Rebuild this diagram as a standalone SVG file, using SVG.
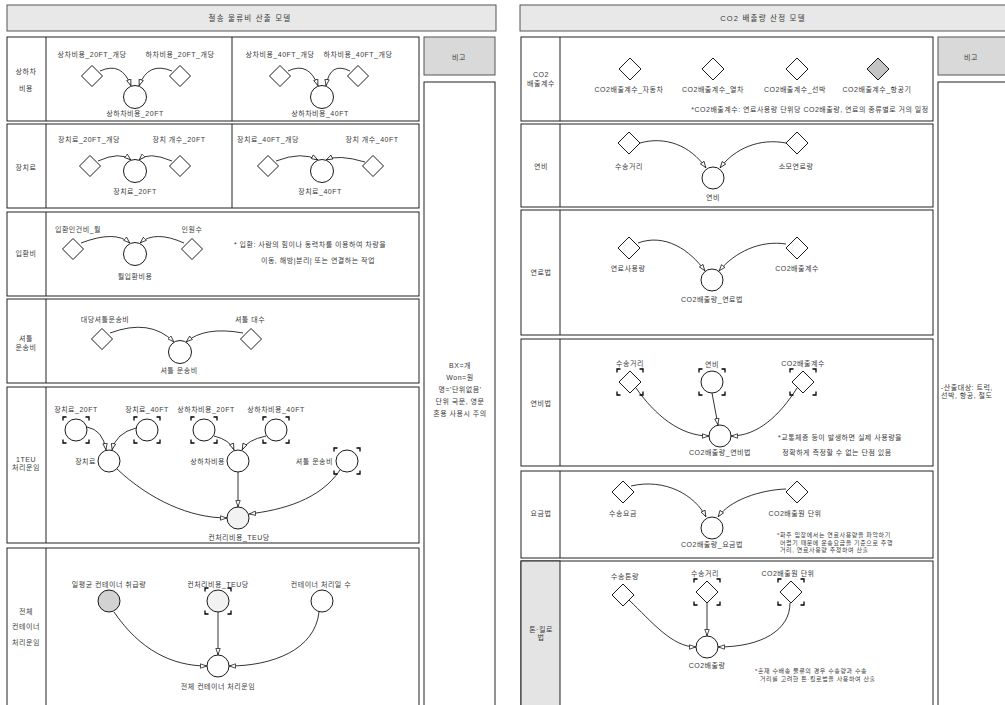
<svg xmlns="http://www.w3.org/2000/svg" width="1005" height="705" viewBox="0 0 1005 705">
<style>
.t{font-family:"Liberation Sans","Noto Sans CJK KR",sans-serif;font-size:7px;fill:#3a3a3a;letter-spacing:0.5px;text-anchor:middle;dominant-baseline:central}
.s{text-anchor:start}
.e{text-anchor:end}
.sm{font-size:6px;letter-spacing:0.6px}
.ttl{font-size:7.5px;letter-spacing:1.2px}
.box{fill:#fff;stroke:#222;stroke-width:1}
.hdr{fill:#e8e8e8;stroke:#555;stroke-width:1}
.nh{fill:#d9d9d9;stroke:#555;stroke-width:1}
.gcell{fill:#e4e4e4;stroke:#222;stroke-width:1}
.ln{stroke:#222;stroke-width:1;fill:none}
.sh{fill:#fff;stroke:#000;stroke-width:0.9}
.brk{fill:none;stroke:#000;stroke-width:1.3}
.cn{fill:none;stroke:#000;stroke-width:0.8;marker-end:url(#ah)}
</style>
<defs>
<path id="dia" d="M0,-10.5L10.5,0L0,10.5L-10.5,0Z"/>
<path id="dib" d="M0,-11L11,0L0,11L-11,0Z"/>
<path id="brk" d="M-13,-9.5V-13H-9.5M9.5,-13H13V-9.5M13,9.5V13H9.5M-9.5,13H-13V9.5"/>
<marker id="ah" viewBox="0 0 8 6" refX="8" refY="3" markerWidth="7" markerHeight="5.5" orient="auto" markerUnits="userSpaceOnUse">
<path d="M0.5,0.5L7.5,3L0.5,5.5Z" fill="#fff" stroke="#000" stroke-width="0.8"/>
</marker>
</defs>
<rect width="1005" height="705" fill="#fff"/>

<!-- LEFT FRAME -->
<g id="left-frame">
<rect class="hdr" x="7" y="5" width="489" height="26"/>
<text class="t ttl" x="250" y="18">철송 물류비 산출 모델</text>
<rect class="box" x="7" y="37" width="412" height="84"/>
<line class="ln" x1="46" y1="37" x2="46" y2="121"/><line class="ln" x1="232" y1="37" x2="232" y2="121"/>
<rect class="box" x="7" y="124" width="412" height="84"/>
<line class="ln" x1="46" y1="124" x2="46" y2="208"/><line class="ln" x1="232" y1="124" x2="232" y2="208"/>
<rect class="box" x="7" y="212" width="412" height="84"/>
<line class="ln" x1="46" y1="212" x2="46" y2="296"/>
<rect class="box" x="7" y="299" width="412" height="84"/>
<line class="ln" x1="46" y1="299" x2="46" y2="383"/>
<rect class="box" x="7" y="387" width="412" height="156"/>
<line class="ln" x1="46" y1="387" x2="46" y2="543"/>
<rect class="box" x="7" y="548" width="412" height="160"/>
<line class="ln" x1="46" y1="548" x2="46" y2="705"/>
<text class="t" x="26" y="71">상하차</text><text class="t" x="26" y="88">비용</text>
<text class="t" x="26" y="167">장치료</text>
<text class="t" x="26" y="253">입환비</text>
<text class="t" x="26" y="338">셔틀</text><text class="t" x="26" y="347">운송비</text>
<text class="t" x="26" y="459">1TEU</text><text class="t" x="26" y="467">처리운임</text>
<text class="t" x="26" y="611">전체</text><text class="t" x="26" y="626">컨테이너</text><text class="t" x="26" y="642">처리운임</text>
<rect class="nh" x="424" y="37" width="71" height="38"/>
<text class="t" x="459" y="57">비고</text>
<rect class="box" x="424" y="82" width="71" height="626"/>
<text class="t" x="460" y="365">BX=개</text>
<text class="t" x="460" y="377">Won=원</text>
<text class="t" x="460" y="389">명='단위없음'</text>
<text class="t" x="460" y="401">단위 국문, 영문</text>
<text class="t" x="460" y="413">혼용 사용시 주의</text>
<text class="t" x="310" y="244">* 입환: 사람의 힘이나 동력차를 이용하여 차량을</text>
<text class="t" x="318" y="260">이동, 해방|분리| 또는 연결하는 작업</text>
</g>

<!-- RIGHT FRAME -->
<g id="right-frame">
<rect class="hdr" x="520" y="5" width="492" height="26"/>
<text class="t ttl" x="763" y="18">CO2 배출량 산정 모델</text>
<rect class="box" x="521" y="37" width="412" height="84"/>
<line class="ln" x1="560" y1="37" x2="560" y2="121"/>
<rect class="box" x="521" y="124" width="412" height="83"/>
<line class="ln" x1="560" y1="124" x2="560" y2="207"/>
<rect class="box" x="521" y="210" width="412" height="125"/>
<line class="ln" x1="560" y1="210" x2="560" y2="335"/>
<rect class="box" x="521" y="339" width="412" height="127"/>
<line class="ln" x1="560" y1="339" x2="560" y2="466"/>
<rect class="box" x="521" y="471" width="412" height="87"/>
<line class="ln" x1="560" y1="471" x2="560" y2="558"/>
<rect class="box" x="521" y="561" width="412" height="147"/>
<rect class="gcell" x="521" y="561" width="39" height="147"/>
<text class="t" x="541" y="74">CO2</text><text class="t" x="541" y="83">배출계수</text>
<text class="t" x="541" y="166">연비</text>
<text class="t" x="541" y="272">연료법</text>
<text class="t" x="541" y="403">연비법</text>
<text class="t" x="541" y="513">요금법</text>
<text class="t" x="541" y="629">톤·킬로</text><text class="t" x="541" y="637">법</text>
<rect class="nh" x="938" y="37" width="72" height="38"/>
<text class="t" x="971" y="57">비고</text>
<rect class="box" x="938" y="82" width="72" height="626"/>
<text class="t s" x="941" y="387">-산출대상: 트럭,</text>
<text class="t s" x="941" y="395">선박, 항공, 철도</text>
<text class="t" x="810" y="109">*CO2배출계수: 연료사용량 단위당 CO2배출량, 연료의 종류별로 거의 일정</text>
<text class="t" x="840" y="437">*교통체증 등이 발생하면 실제 사용량을</text>
<text class="t" x="837" y="452">정확하게 측정할 수 없는 단점 있음</text>
<text class="t s sm" x="777" y="535">*화주 입장에서는 연료사용량을 파악하기</text>
<text class="t s sm" x="780" y="542.5">어렵기 때문에 운송요금을 기준으로 주행</text>
<text class="t s sm" x="780" y="550">거리, 연료사용량 추정하여 산출</text>
<text class="t s sm" x="755" y="671">*혼재 수배송 물류의 경우 수송량과 수송</text>
<text class="t s sm" x="760" y="679">거리를 고려한 톤·킬로법을 사용하여 산출</text>
</g>

<!-- CONNECTORS -->
<g id="connectors">
<path class="cn" d="M100,71Q122,61 131,86"/>
<path class="cn" d="M172,71Q148,61 139,86"/>
<path class="cn" d="M288,71Q309,61 318,86"/>
<path class="cn" d="M350,71Q330,61 326,86"/>
<path class="cn" d="M98,161Q120,151 131,160"/>
<path class="cn" d="M172,161Q148,151 139,160"/>
<path class="cn" d="M276,161Q302,151 318,160"/>
<path class="cn" d="M365,162Q338,154 326,160"/>
<path class="cn" d="M81,243Q115,230 130,243"/>
<path class="cn" d="M184,243Q155,230 140,243"/>
<path class="cn" d="M110,333Q150,318 174,342"/>
<path class="cn" d="M243,333Q205,326 186,342"/>
<path class="cn" d="M87,427Q103,430 106,450"/>
<path class="cn" d="M136,428Q116,433 112,450"/>
<path class="cn" d="M214,436Q230,440 234,450"/>
<path class="cn" d="M266,436Q247,440 242,450"/>
<path class="cn" d="M117,469C150,500 190,518 227,518"/>
<path class="cn" d="M238,472L238,507"/>
<path class="cn" d="M340,470C320,500 282,510 249,514"/>
<path class="cn" d="M114,612C140,650 172,666 207,666"/>
<path class="cn" d="M218,612L218,655"/>
<path class="cn" d="M319,612C315,650 272,666 229,666"/>
<path class="cn" d="M640,143C665,136 690,145 706,168"/>
<path class="cn" d="M786,143C760,138 735,148 720,168"/>
<path class="cn" d="M638,243C665,233 690,250 705,271"/>
<path class="cn" d="M786,244C760,240 735,252 719,271"/>
<path class="cn" d="M636,388C655,415 680,436 709,436"/>
<path class="cn" d="M712,393L718,425"/>
<path class="cn" d="M797,388C780,415 758,436 731,436"/>
<path class="cn" d="M631,486C665,478 695,495 706,517"/>
<path class="cn" d="M786,489C760,490 730,500 718,517"/>
<path class="cn" d="M629,600C652,622 672,647 696,647"/>
<path class="cn" d="M707,603L707,636"/>
<path class="cn" d="M790,603C790,630 762,647 718,647"/>
</g>

<!-- LEFT NODES -->
<g id="n-sangcha20"><use href="#dia" class="sh" x="92" y="76"/><text class="t" x="92" y="54">상차비용_20FT_개당</text></g>
<g id="n-hacha20"><use href="#dia" class="sh" x="180" y="76"/><text class="t" x="180" y="54">하차비용_20FT_개당</text></g>
<g id="n-sanghacha20"><circle class="sh" cx="135" cy="97" r="11.5"/><text class="t" x="135" y="113">상하차비용_20FT</text></g>
<g id="n-sangcha40"><use href="#dia" class="sh" x="280" y="76"/><text class="t" x="280" y="54">상차비용_40FT_개당</text></g>
<g id="n-hacha40"><use href="#dia" class="sh" x="358" y="76"/><text class="t" x="358" y="54">하차비용_40FT_개당</text></g>
<g id="n-sanghacha40"><circle class="sh" cx="322" cy="97" r="11.5"/><text class="t" x="320" y="113">상하차비용_40FT</text></g>

<g id="n-jangchi20-unit"><use href="#dia" class="sh" x="90" y="166"/><text class="t" x="89" y="139">장치료_20FT_개당</text></g>
<g id="n-jangchi20-cnt"><use href="#dia" class="sh" x="180" y="166"/><text class="t" x="179" y="139">장치 개수_20FT</text></g>
<g id="n-jangchi20"><circle class="sh" cx="135" cy="171" r="11.5"/><text class="t" x="135" y="191">장치료_20FT</text></g>
<g id="n-jangchi40-unit"><use href="#dia" class="sh" x="268" y="166"/><text class="t" x="268" y="139">장치료_40FT_개당</text></g>
<g id="n-jangchi40-cnt"><use href="#dia" class="sh" x="373" y="166"/><text class="t" x="372" y="139">장치 개수_40FT</text></g>
<g id="n-jangchi40"><circle class="sh" cx="322" cy="171" r="11.5"/><text class="t" x="320" y="191">장치료_40FT</text></g>

<g id="n-iphwan-labor"><use href="#dia" class="sh" x="73" y="249"/><text class="t" x="78" y="229">입환인건비_월</text></g>
<g id="n-inwon"><use href="#dia" class="sh" x="192" y="249"/><text class="t" x="192" y="229">인원수</text></g>
<g id="n-iphwan"><circle class="sh" cx="135" cy="254" r="11.5"/><text class="t" x="135" y="276">월입환비용</text></g>

<g id="n-shuttle-unit"><use href="#dia" class="sh" x="102" y="339"/><text class="t" x="105" y="319">대당셔틀운송비</text></g>
<g id="n-shuttle-cnt"><use href="#dia" class="sh" x="251" y="339"/><text class="t" x="250" y="319">셔틀 대수</text></g>
<g id="n-shuttle"><circle class="sh" cx="180" cy="352" r="11.5"/><text class="t" x="179" y="370">셔틀 운송비</text></g>

<g id="n-g-jangchi20"><circle class="sh" cx="76" cy="430" r="11"/><use href="#brk" class="brk" x="76" y="430"/><text class="t" x="76" y="409">장치료_20FT</text></g>
<g id="n-g-jangchi40"><circle class="sh" cx="147" cy="430" r="11"/><use href="#brk" class="brk" x="147" y="430"/><text class="t" x="147" y="409">장치료_40FT</text></g>
<g id="n-g-sangha20"><circle class="sh" cx="204" cy="430" r="11"/><use href="#brk" class="brk" x="204" y="430"/><text class="t" x="206" y="409">상하차비용_20FT</text></g>
<g id="n-g-sangha40"><circle class="sh" cx="276" cy="430" r="11"/><use href="#brk" class="brk" x="276" y="430"/><text class="t" x="276" y="409">상하차비용_40FT</text></g>
<g id="n-jangchi"><circle class="sh" cx="109" cy="461" r="11"/><text class="t e" x="96" y="461">장치료</text></g>
<g id="n-sangha"><circle class="sh" cx="238" cy="461" r="11"/><text class="t e" x="225" y="461">상하차비용</text></g>
<g id="n-g-shuttle"><circle class="sh" cx="347" cy="461" r="11"/><use href="#brk" class="brk" x="347" y="461"/><text class="t e" x="333" y="461">셔틀 운송비</text></g>
<g id="n-teu"><circle class="sh" cx="238" cy="518" r="11" style="fill:#f2f2f2"/><text class="t" x="239" y="537">컨처리비용_TEU당</text></g>

<g id="n-daily"><circle class="sh" cx="109" cy="601" r="11" style="fill:#d2d2d2"/><text class="t" x="109" y="584">일평균 컨테이너 취급량</text></g>
<g id="n-g-teu"><circle class="sh" cx="218" cy="601" r="11" style="fill:#f2f2f2"/><use href="#brk" class="brk" x="218" y="601"/><text class="t" x="218" y="584">컨처리비용_TEU당</text></g>
<g id="n-days"><circle class="sh" cx="322" cy="601" r="11"/><text class="t" x="321" y="584">컨테이너 처리일 수</text></g>
<g id="n-total"><circle class="sh" cx="218" cy="666" r="11"/><text class="t" x="218" y="686">전체 컨테이너 처리운임</text></g>

<!-- RIGHT NODES -->
<g id="n-co2-car"><use href="#dib" class="sh" x="630" y="69"/><text class="t" x="629" y="89">CO2배출계수_자동차</text></g>
<g id="n-co2-train"><use href="#dib" class="sh" x="713" y="69"/><text class="t" x="713" y="89">CO2배출계수_열차</text></g>
<g id="n-co2-ship"><use href="#dib" class="sh" x="797" y="69"/><text class="t" x="795" y="89">CO2배출계수_선박</text></g>
<g id="n-co2-air"><use href="#dib" class="sh" x="878" y="69" style="fill:#c4c4c4"/><text class="t" x="877" y="89">CO2배출계수_항공기</text></g>

<g id="n-dist1"><use href="#dib" class="sh" x="629" y="143"/><text class="t" x="629" y="166">수송거리</text></g>
<g id="n-fuel-used"><use href="#dib" class="sh" x="797" y="143"/><text class="t" x="796" y="166">소모연료량</text></g>
<g id="n-mileage"><circle class="sh" cx="713" cy="178" r="11"/><text class="t" x="713" y="197">연비</text></g>

<g id="n-fuel"><use href="#dib" class="sh" x="629" y="248"/><text class="t" x="628" y="268">연료사용량</text></g>
<g id="n-coef1"><use href="#dib" class="sh" x="797" y="248"/><text class="t" x="797" y="268">CO2배출계수</text></g>
<g id="n-co2-fuel"><circle class="sh" cx="712" cy="280" r="11"/><text class="t" x="712" y="299">CO2배출량_연료법</text></g>

<g id="n-g-dist2"><use href="#dib" class="sh" x="630" y="382"/><use href="#brk" class="brk" x="630" y="382"/><text class="t" x="630" y="363">수송거리</text></g>
<g id="n-g-mileage"><circle class="sh" cx="712" cy="382" r="11"/><use href="#brk" class="brk" x="712" y="382"/><text class="t" x="712" y="364">연비</text></g>
<g id="n-g-coef2"><use href="#dib" class="sh" x="803" y="382"/><use href="#brk" class="brk" x="803" y="382"/><text class="t" x="803" y="363">CO2배출계수</text></g>
<g id="n-co2-mileage"><circle class="sh" cx="720" cy="436" r="11"/><text class="t" x="720" y="452">CO2배출량_연비법</text></g>

<g id="n-fare"><use href="#dib" class="sh" x="623" y="492"/><text class="t" x="623" y="513">수송요금</text></g>
<g id="n-unit1"><use href="#dib" class="sh" x="797" y="492"/><text class="t" x="795" y="513">CO2배출원 단위</text></g>
<g id="n-co2-fare"><circle class="sh" cx="712" cy="528" r="11"/><text class="t" x="712" y="544">CO2배출량_요금법</text></g>

<g id="n-ton"><use href="#dib" class="sh" x="623" y="595"/><text class="t" x="625" y="576">수송톤량</text></g>
<g id="n-g-dist3"><use href="#dib" class="sh" x="707" y="592"/><use href="#brk" class="brk" x="707" y="592"/><text class="t" x="705" y="573">수송거리</text></g>
<g id="n-g-unit2"><use href="#dib" class="sh" x="791" y="592"/><use href="#brk" class="brk" x="791" y="592"/><text class="t" x="788" y="573">CO2배출원 단위</text></g>
<g id="n-co2-tonkm"><circle class="sh" cx="707" cy="647" r="11"/><text class="t" x="707" y="665">CO2배출량</text></g>
</svg>
